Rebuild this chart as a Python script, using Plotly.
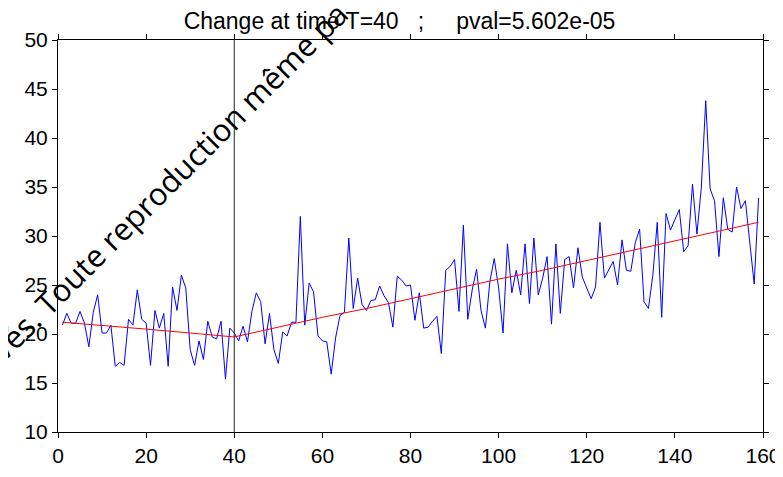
import plotly.graph_objects as go

# Observed series (time index 1..159)
series_values = [
    20.9, 22.1, 21.1, 21.1, 22.3, 21.1, 18.7, 22.2, 24.0, 20.1,
    20.1, 20.9, 16.7, 17.1, 16.8, 21.5, 20.9, 24.5, 21.5, 21.1,
    16.8, 22.4, 20.6, 22.1, 16.7, 24.8, 22.4, 26.0, 24.7, 18.4,
    16.8, 19.3, 17.4, 21.3, 19.7, 19.5, 21.3, 15.4, 20.6, 20.1,
    19.3, 20.8, 19.2, 22.3, 24.2, 23.3, 19.0, 22.1, 18.4, 17.0,
    20.2, 19.8, 21.2, 21.2, 32.0, 20.9, 25.2, 24.3, 19.8, 19.3,
    19.2, 15.9, 19.6, 21.9, 22.2, 29.8, 22.6, 25.7, 23.0, 22.4,
    23.4, 23.5, 24.9, 23.9, 23.2, 20.7, 25.9, 25.5, 24.9, 25.0,
    21.4, 24.2, 20.6, 20.7, 21.3, 21.8, 18.0, 26.5, 26.9, 27.6,
    22.3, 31.1, 21.5, 24.5, 26.6, 22.4, 20.6, 25.3, 27.7, 24.7,
    20.1, 29.2, 24.2, 26.5, 24.0, 29.2, 23.1, 29.8, 24.0, 25.7,
    27.9, 21.0, 29.2, 22.1, 27.6, 27.9, 24.7, 28.8, 25.8, 24.7,
    23.6, 24.8, 31.4, 25.7, 26.5, 27.4, 25.0, 29.6, 26.5, 26.4,
    29.3, 30.7, 23.3, 22.6, 26.0, 31.4, 21.7, 32.3, 30.6, 31.6,
    32.7, 28.4, 29.0, 35.3, 30.2, 34.9, 43.8, 34.8, 33.6, 27.9,
    33.9, 30.7, 30.4, 35.0, 32.8, 33.6, 29.3, 25.1, 33.9,
]
series_time = list(range(1, len(series_values) + 1))

# Fitted trend (red), read at selected times
trend_time = [1, 10, 20, 30, 40, 50, 60, 70, 80, 90, 100, 110, 120, 130, 140, 150, 159]
trend_values = [21.2, 20.9, 20.5, 20.1, 19.7, 20.7, 21.7, 22.6, 23.6, 24.6,
                25.6, 26.5, 27.5, 28.5, 29.5, 30.5, 31.4]

change_time = 40
x_ticks = [0, 20, 40, 60, 80, 100, 120, 140, 160]
y_ticks = [10, 15, 20, 25, 30, 35, 40, 45, 50]

FONT = "Liberation Sans, Arial, sans-serif"

fig = go.Figure()
fig.add_trace(go.Scatter(x=series_time, y=series_values, mode="lines",
                         line=dict(color="#0000FF", width=1), showlegend=False))
fig.add_trace(go.Scatter(x=trend_time, y=trend_values, mode="lines",
                         line=dict(color="#FF0000", width=1), showlegend=False))

fig.add_shape(type="line", xref="x", yref="paper", x0=change_time, x1=change_time,
              y0=0, y1=1, line=dict(color="#222222", width=1))

fig.add_annotation(text="vés. Toute reproduction même pa", xref="paper", yref="paper",
                   x=0.157, y=0.64, xanchor="center", yanchor="middle",
                   showarrow=False, textangle=-45,
                   font=dict(family="Open Sans, sans-serif", size=31, color="#000000"))

fig.update_layout(
    width=783, height=477,
    margin=dict(l=50, r=28, t=32, b=53),
    paper_bgcolor="white", plot_bgcolor="white",
    title=dict(text="Change at time T=40   ;     pval=5.602e-05",
               xref="container", x=0.5, xanchor="center", y=0.99, yanchor="top",
               font=dict(family=FONT, size=23, color="black")),
    font=dict(family=FONT, size=21, color="black"),
)
fig.update_xaxes(range=[0, 160], tickvals=x_ticks, showgrid=False, zeroline=False,
                 showline=True, linecolor="black", linewidth=1, mirror="ticks",
                 ticks="outside", ticklen=5, tickcolor="black", automargin=False)
fig.update_yaxes(range=[10, 50], tickvals=y_ticks, showgrid=False, zeroline=False,
                 showline=True, linecolor="black", linewidth=1, mirror="ticks",
                 ticks="outside", ticklen=5, tickcolor="black", automargin=False)

fig.write_html("out.html")
